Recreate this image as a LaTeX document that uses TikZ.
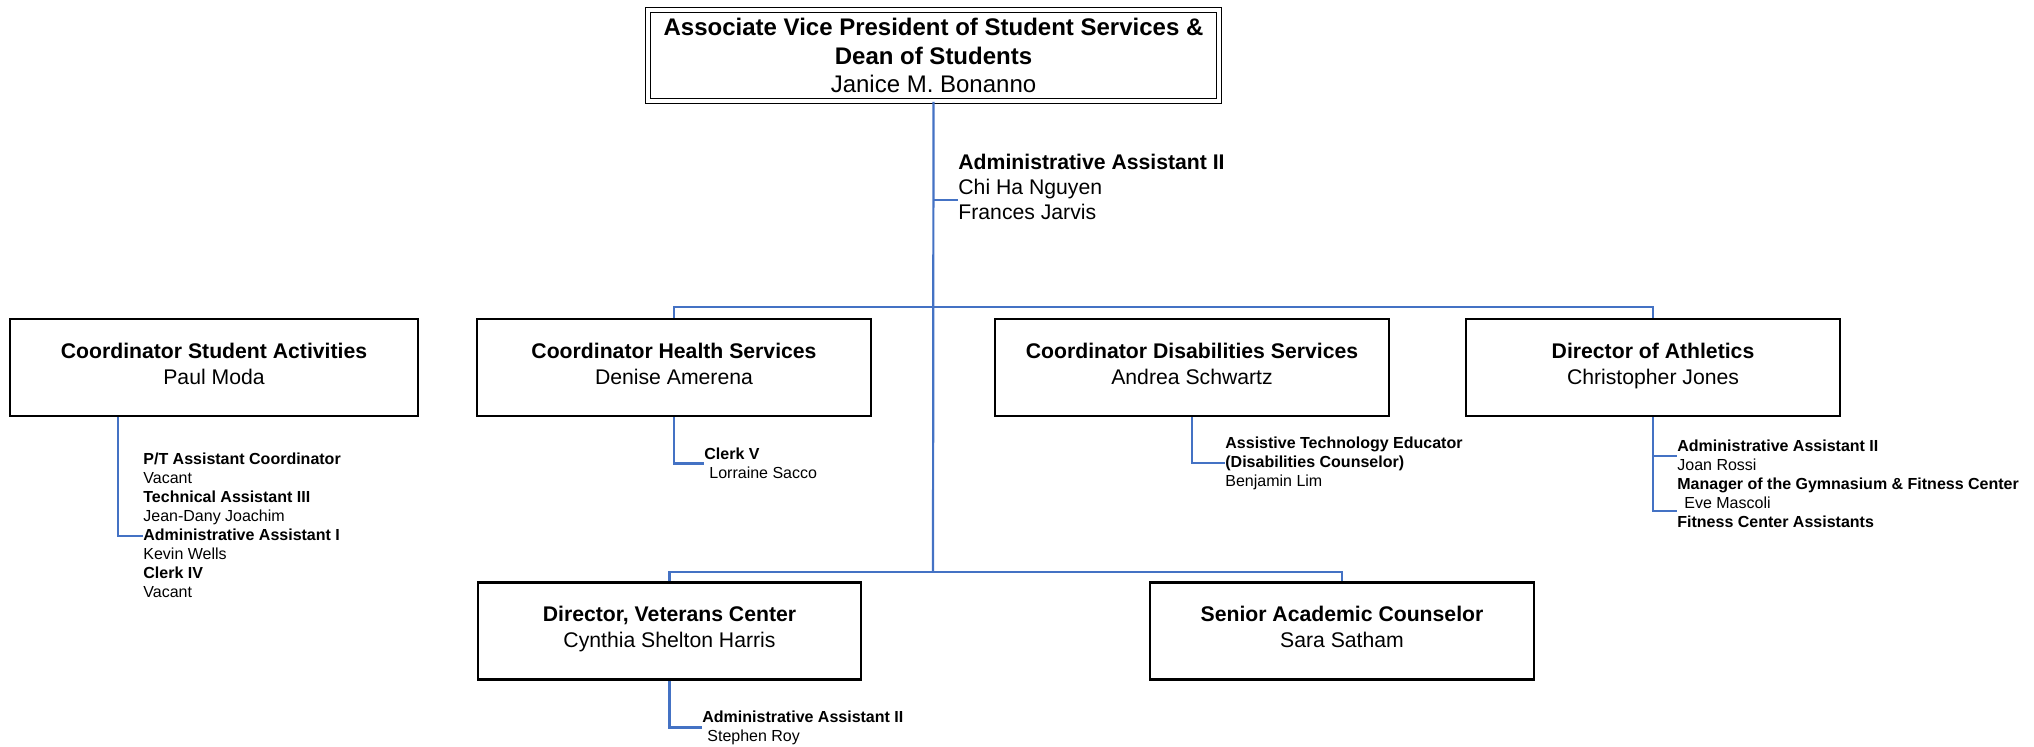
\documentclass[tikz,border=0pt]{standalone}
\usepackage{fontspec}
\setmainfont{Liberation Sans}
\usetikzlibrary{calc}
\definecolor{linkblue}{RGB}{68,114,196}

\begin{document}
\begin{tikzpicture}[x=0.5pt, y=-0.5pt]
        % ================= styles =================
        \tikzset{
            % ordinary position box
            posbox/.style={draw=black, line width=1.1pt, fill=white, align=center, minimum height=48.5pt, inner sep=2pt, font=\fontsize{10.6}{13}\selectfont, execute at begin node=\rule{0pt}{11.7pt}, execute at end node=\strut},
            % top box with double frame
            headbox/.style={draw=black, line width=0.8pt, double, double distance=1.6pt, align=center, minimum width=285.5pt, minimum height=45.5pt, inner sep=2pt, font=\fontsize{12}{14.2}\selectfont},
            % staff listed under a box
            stafflist/.style={anchor=west, align=left, inner sep=0pt, font=\fontsize{8}{9.5}\selectfont},
            % blue connector
            link/.style={draw=linkblue, line width=1.1pt}
        }
        \useasboundingbox (0,0) rectangle (2034,746);

        % ================= top =================
        \node[headbox] (avp) at (933.5,55.5) {\textbf{Associate Vice President of Student Services \&}\\\textbf{Dean of Students}\\Janice M. Bonanno};
        \node[anchor=west, align=left, inner sep=0pt, font=\fontsize{10.6}{12.5}\selectfont] (avpadm) at (958,187) {\textbf{Administrative Assistant II}\\Chi Ha Nguyen\\Frances Jarvis};

        % ================= first row =================
        \node[posbox, minimum width=204pt] (sa) at (214,367.5) {\textbf{Coordinator Student Activities}\\Paul Moda};
        \node[posbox, minimum width=197pt] (hs) at (674,367.5) {\textbf{Coordinator Health Services}\\Denise Amerena};
        \node[posbox, minimum width=197pt] (ds) at (1192,367.5) {\textbf{Coordinator Disabilities Services}\\Andrea Schwartz};
        \node[posbox, minimum width=187pt] (ath) at (1653,367.5) {\textbf{Director of Athletics}\\Christopher Jones};

        % ================= second row =================
        \node[posbox, minimum width=191.5pt] (vc) at (669.5,631) {\textbf{Director, Veterans Center}\\Cynthia Shelton Harris};
        \node[posbox, minimum width=192pt] (sac) at (1342,631) {\textbf{Senior Academic Counselor}\\Sara Satham};

        % ================= staff =================
        \node[stafflist] (salist) at (143,525.5) {\textbf{P/T Assistant Coordinator}\\Vacant\\\textbf{Technical Assistant III}\\Jean-Dany Joachim\\\textbf{Administrative Assistant I}\\Kevin Wells\\\textbf{Clerk IV}\\Vacant};
        \node[stafflist] (hslist) at (704,463.5) {\textbf{Clerk V}\\\hspace*{2.5pt}Lorraine Sacco};
        \node[stafflist] (dslist) at (1225,463) {\textbf{Assistive Technology Educator}\\\textbf{(Disabilities Counselor)}\\Benjamin Lim};
        \node[stafflist] (athlist) at (1677,483.5) {\textbf{Administrative Assistant II}\\Joan Rossi\\\textbf{Manager of the Gymnasium \& Fitness Center}\\\hspace*{3.5pt}Eve Mascoli\\\textbf{Fitness Center Assistants}};
        \node[stafflist] (vclist) at (702,727.5) {\textbf{Administrative Assistant II}\\\hspace*{2.5pt}Stephen Roy};

        % ================= connectors =================
        \coordinate (bar1) at (933,307);
        \coordinate (bar2) at (933,572);
        \coordinate (avptick) at (933,200);
        \coordinate (satick) at (118,536);
        \coordinate (athtick1) at (1653,456);
        \coordinate (athtick2) at (1653,511);

        \draw[link] (avp.south) -- (bar2);
        \draw[link] (avptick) -- (avptick -| avpadm.west);
        \draw[link] (hs.north) |- (bar1) -| (ath.north);
        \draw[link] (vc.north) |- (bar2) -| (sac.north);

        \draw[link] (sa.south -| satick) |- (satick -| salist.west);
        \draw[link] (hs.south) |- (hslist.west);
        \draw[link] (ds.south) |- (dslist.west);
        \draw[link] (ath.south) |- (athtick2 -| athlist.west);
        \draw[link] (athtick1) -- (athtick1 -| athlist.west);
        \draw[link] (vc.south) |- (vclist.west);

\end{tikzpicture}
\end{document}
